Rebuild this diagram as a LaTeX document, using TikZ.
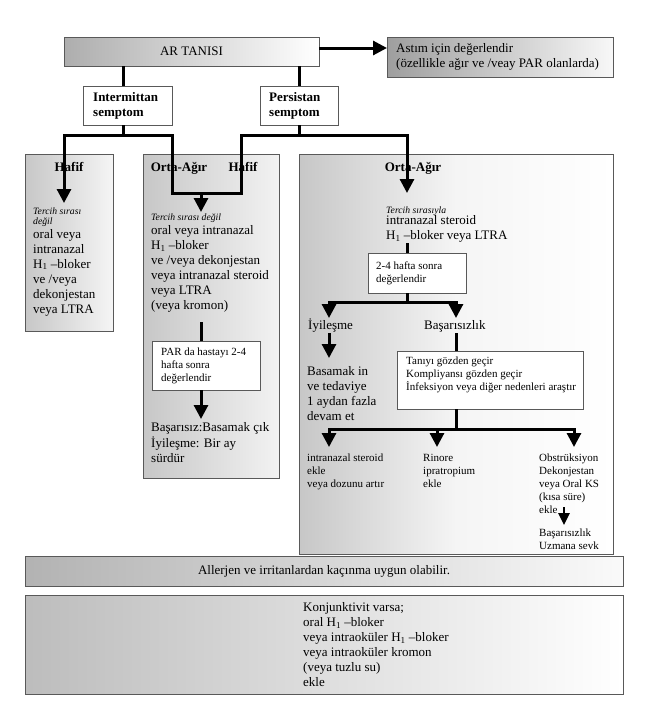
\documentclass[tikz,border=0pt]{standalone}
\usepackage{fontspec}
\setmainfont{Liberation Serif}
\usetikzlibrary{arrows.meta}
\newcommand\fmain{\fontsize{13}{15}\selectfont}
\newcommand\fsmall{\fontsize{11}{13}\selectfont}
\newcommand\fital{\fontsize{9.7}{10.5}\selectfont\itshape}
\newcommand\Hone{H\textsubscript{1}}
\begin{document}
\begin{tikzpicture}[x=1pt,y=-1pt,
  box/.style={draw=black!65, line width=0.9pt, inner sep=0pt, outer sep=0pt, anchor=north west},
  wbox/.style={box, fill=white},
  conn/.style={line width=3pt},
  arrowed/.style={-{Triangle[width=14pt,length=14pt]}},
  twoarrows/.style={{Triangle[width=14pt,length=14pt]}-{Triangle[width=14pt,length=14pt]}},
  txt/.style={inner sep=0pt, anchor=north west, align=left},
  ltxt/.style={inner sep=0pt, anchor=west, align=left},
  head/.style={inner sep=0pt, anchor=base, font=\fmain\bfseries}]
\fill[white] (0,0) rectangle (648,710);
\useasboundingbox (0,0) rectangle (648,710);

% panels
\node[box, minimum width=88pt, minimum height=177pt, left color=black!22, right color=black!4] (panL) at (25,154) {};
\node[box, minimum width=136pt, minimum height=324pt, left color=black!22, right color=black!5] (panM) at (143,154) {};
\node[box, minimum width=314pt, minimum height=400pt, left color=black!22, right color=white, middle color=black!4] (panR) at (299,154) {};

% top boxes
\node[box, minimum width=255pt, minimum height=29pt, left color=black!32, right color=white, font=\fmain] (ar) at (64,37) {AR TANISI};
\node[box, minimum width=226pt, minimum height=40pt, left color=black!38, right color=black!3] (astim) at (387,37) {};
\node[ltxt, font=\fmain] (astimt) at ([xshift=9pt]astim.west) {Astım için değerlendir\\(özellikle ağır ve /veay PAR olanlarda)};
\node[wbox, minimum width=89pt, minimum height=39pt] (int) at (83,86) {};
\node[ltxt, font=\fmain\bfseries] (intt) at ([xshift=10pt]int.west) {Intermittan\\semptom};
\node[wbox, minimum width=78pt, minimum height=39pt] (pers) at (260,86) {};
\node[ltxt, font=\fmain\bfseries] (perst) at ([xshift=9pt]pers.west) {Persistan\\semptom};

% headers
\node[head] (hL) at (69,171) {Hafif};
\node[head] (hMo) at (179,171) {Orta-Ağır};
\node[head] (hMh) at (243,171) {Hafif};
\node[head] (hR) at (413,171) {Orta-Ağır};

% left panel
\node[txt, font=\fital] (lit) at (33,206.6) {\strut Tercih sırası\\değil};
\node[txt, font=\fmain] (ltx) at (33,227.3) {\strut oral veya\\intranazal\\\Hone{} –bloker\\ve /veya\\dekonjestan\\veya LTRA};

% middle panel
\node[txt, font=\fital] (mit) at (151,213) {\strut Tercih sırası değil};
\node[txt, font=\fmain] (mtx) at (151,224) {\strut oral veya intranazal\\\Hone{} –bloker\\ve /veya dekonjestan\\veya intranazal steroid\\veya LTRA\\(veya kromon)};
\node[wbox, minimum width=108pt, minimum height=49pt] (par) at (152,341) {};
\node[ltxt, font=\fsmall] (part) at ([xshift=9pt]par.west) {PAR da hastayı 2-4\\hafta sonra\\değerlendir};
\node[txt, font=\fmain] (mres) at (151,420.5) {\strut Başarısız:Basamak çık\\İyileşme: Bir ay\\sürdür};

% right panel
\node[txt, font=\fital] (rit) at (386,206) {\strut Tercih sırasıyla};
\node[txt, font=\fmain] (rtx) at (386,214) {\strut intranazal steroid\\\Hone{} –bloker veya LTRA};
\node[wbox, minimum width=98pt, minimum height=40pt] (eval) at (368,253) {};
\node[ltxt, font=\fsmall] (evalt) at ([xshift=8pt]eval.west) {2-4 hafta sonra\\değerlendir};
\node[inner sep=0pt, anchor=base west, font=\fmain] (iyi) at (308,329) {İyileşme};
\node[inner sep=0pt, anchor=base west, font=\fmain] (bas) at (424,329) {Başarısızlık};
\node[txt, font=\fmain] (basam) at (307,364.5) {\strut Basamak in\\ve tedaviye\\1 aydan fazla\\devam et};
\node[wbox, minimum width=186pt, minimum height=58pt] (check) at (397,351) {};
\node[ltxt, font=\fsmall] (checkt) at ([xshift=9pt,yshift=5pt]check.west) {Tanıyı gözden geçir\\Kompliyansı gözden geçir\\İnfeksiyon veya diğer nedenleri araştır};
\node[txt, font=\fsmall] (o1) at (307,452.4) {\strut intranazal steroid\\ekle\\veya dozunu artır};
\node[txt, font=\fsmall] (o2) at (423,452.4) {\strut Rinore\\ipratropium\\ekle};
\node[txt, font=\fsmall] (o3) at (539,452.4) {\strut Obstrüksiyon\\Dekonjestan\\veya Oral KS\\(kısa süre)\\ekle};
\node[txt, font=\fsmall] (o4) at (539,527.4) {\strut Başarısızlık\\Uzmana sevk};

% bottom boxes
\node[box, minimum width=598pt, minimum height=30pt, left color=black!30, right color=black!2, font=\fmain] (aller) at (25,556) {Allerjen ve irritanlardan kaçınma uygun olabilir.};
\node[box, minimum width=598pt, minimum height=99pt, left color=black!26, right color=white] (konj) at (25,595) {};
\node[ltxt, font=\fmain] (konjt) at ([xshift=278pt]konj.west) {Konjunktivit varsa;\\oral \Hone{} –bloker\\veya intraoküler \Hone{} –bloker\\veya intraoküler kromon\\(veya tuzlu su)\\ekle};

% coordinates
\coordinate (jInt) at (123,135);
\coordinate (jL) at (64,135);
\coordinate (tipL) at (64,203);
\coordinate (jM1) at (172,135);
\coordinate (jM2) at (172,193);
\coordinate (jM3) at (241,193);
\coordinate (jP1) at (241,135);
\coordinate (jR) at (407,135);
\coordinate (tipR) at (407,193);
\coordinate (jMid) at (201,193);
\coordinate (tipM) at (201,212);
\coordinate (aY) at (0,48);
\coordinate (m1) at (201,322);
\coordinate (tipM2) at (201,419);
\coordinate (r1) at (407,243);
\coordinate (jE) at (407,302);
\coordinate (jE1) at (329,302);
\coordinate (jE2) at (456,302);
\coordinate (tipE1) at (329,318);
\coordinate (tipE2) at (456,318);
\coordinate (iy1) at (329,333);
\coordinate (tipIy) at (329,358);
\coordinate (b1) at (456,333);
\coordinate (jC) at (456,429);
\coordinate (jC1) at (329,429);
\coordinate (jC2) at (574,429);
\coordinate (jC3) at (437,429);
\coordinate (tipC1) at (329,447);
\coordinate (tipC2) at (574,447);
\coordinate (tipC3) at (437,447);
\coordinate (s1) at (564,507);
\coordinate (tipS) at (564,525);

% connectors
\draw[conn] (ar.south -| jInt) -- (int.north -| jInt);
\draw[conn] (ar.south -| pers.north) -- (pers.north);
\draw[conn, arrowed] (ar.east |- aY) -- (astim.west |- aY);
\draw[conn] (int.south -| jInt) -- (jInt);
\draw[conn] (pers.south) -- (pers.south |- jR);
\draw[conn, twoarrows] (tipL) -- (jL) -- (jM1) -- (jM2) -- (jM3) -- (jP1) -- (jR) -- (tipR);
\draw[conn, arrowed] (jMid) -- (tipM);
\draw[conn] (m1) -- (par.north -| m1);
\draw[conn, arrowed] (par.south -| m1) -- (tipM2);
\draw[conn] (r1) -- (eval.north -| r1);
\draw[conn] (eval.south -| jE) -- (jE);
\draw[conn, twoarrows] (tipE1) -- (jE1) -- (jE2) -- (tipE2);
\draw[conn, arrowed] (iy1) -- (tipIy);
\draw[conn] (b1) -- (check.north -| b1);
\draw[conn] (check.south -| jC) -- (jC);
\draw[conn, twoarrows] (tipC1) -- (jC1) -- (jC2) -- (tipC2);
\draw[conn, arrowed] (jC3) -- (tipC3);
\draw[line width=2.5pt, -{Triangle[width=11pt,length=12pt]}] (s1) -- (tipS);
\end{tikzpicture}
\end{document}
